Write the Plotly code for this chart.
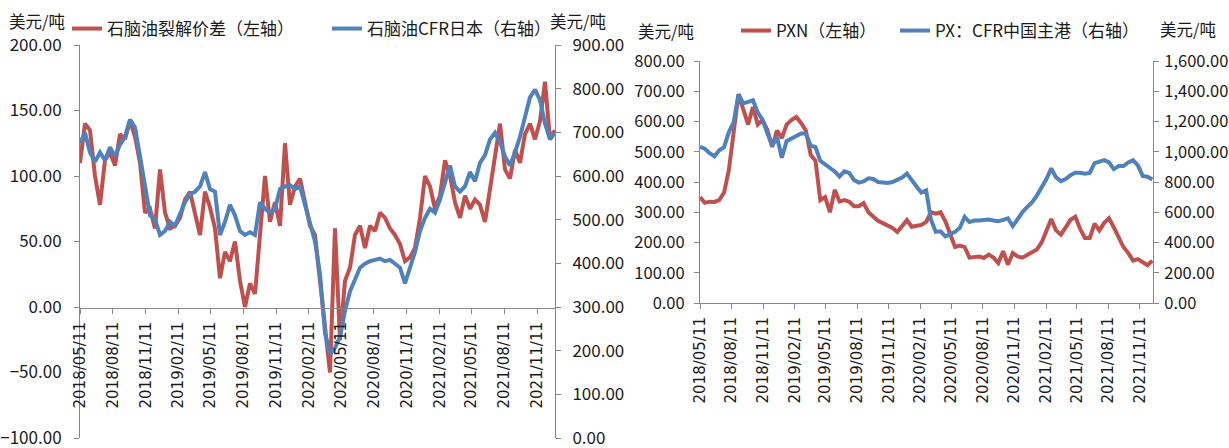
import pandas as pd
import plotly.graph_objects as go

# ---------------- data ----------------
dates = pd.date_range("2018-05-11", periods=96, freq="14D")

tick_dates = ["2018-05-11", "2018-08-11", "2018-11-11", "2019-02-11", "2019-05-11",
              "2019-08-11", "2019-11-11", "2020-02-11", "2020-05-11", "2020-08-11",
              "2020-11-11", "2021-02-11", "2021-05-11", "2021-08-11", "2021-11-11"]
tick_labels = ["2018/05/11", "2018/08/11", "2018/11/11", "2019/02/11", "2019/05/11",
               "2019/08/11", "2019/11/11", "2020/02/11", "2020/05/11", "2020/08/11",
               "2020/11/11", "2021/02/11", "2021/05/11", "2021/08/11", "2021/11/11"]

# 石脑油裂解价差 (left axis, USD/t)
naphtha_crack = [110, 140, 135, 100, 78, 112, 118, 108, 132, 128,
                 142, 130, 110, 72, 75, 60, 105, 72, 60, 62,
                 68, 82, 88, 72, 55, 88, 76, 60, 22, 42,
                 35, 50, 20, 0, 18, 10, 55, 100, 65, 80,
                 62, 125, 78, 92, 98, 78, 62, 55, 20, -20,
                 -50, 60, -25, 20, 30, 55, 62, 45, 62, 58,
                 72, 68, 60, 55, 48, 35, 38, 45, 68, 100,
                 92, 75, 85, 112, 100, 80, 68, 85, 75, 82,
                 78, 65, 92, 115, 140, 105, 98, 120, 110, 132,
                 140, 128, 142, 172, 128, 135]

# 石脑油CFR日本 (right axis, USD/t)
naphtha_cfr_japan = [675, 699, 654, 633, 654, 636, 666, 645, 672, 690,
                     729, 711, 645, 576, 510, 501, 465, 474, 495, 486,
                     516, 540, 558, 564, 576, 609, 570, 564, 465, 495,
                     534, 510, 474, 465, 471, 465, 540, 525, 516, 525,
                     570, 576, 579, 570, 576, 534, 492, 450, 375, 240,
                     192, 207, 231, 291, 336, 366, 390, 399, 405, 408,
                     411, 405, 408, 399, 390, 354, 390, 426, 474, 504,
                     525, 516, 546, 585, 624, 576, 564, 576, 609, 588,
                     630, 648, 684, 699, 678, 645, 624, 654, 690, 735,
                     780, 798, 774, 720, 684, 699]

# PXN (left axis, USD/t)
pxn = [350, 331, 335, 334, 340, 365, 440, 560, 690, 640,
       590, 648, 590, 605, 572, 516, 570, 545, 590, 605,
       615, 595, 570, 490, 470, 340, 350, 300, 374, 335,
       340, 335, 320, 320, 330, 300, 285, 272, 264, 255,
       248, 235, 255, 274, 252, 255, 258, 268, 300, 295,
       300, 270, 226, 185, 190, 185, 150, 152, 154, 149,
       160, 150, 132, 171, 127, 165, 154, 150, 160, 170,
       177, 200, 235, 278, 240, 226, 250, 275, 285, 245,
       215, 215, 262, 240, 265, 280, 250, 215, 185, 165,
       140, 145, 135, 125, 140]

# PX：CFR中国主港 (right axis, USD/t)
px_cfr_china = [1032, 1020, 990, 970, 1010, 1030, 1130, 1196, 1380, 1320,
                1330, 1340, 1260, 1210, 1124, 1040, 1098, 960, 1070, 1090,
                1104, 1120, 1120, 1040, 1030, 940, 916, 896, 870, 836,
                870, 860, 814, 796, 804, 824, 820, 800, 796, 794,
                800, 814, 830, 856, 810, 770, 730, 744, 550, 470,
                474, 441, 455, 470, 497, 570, 535, 545, 545, 550,
                552, 545, 540, 550, 560, 508, 560, 600, 635, 665,
                710, 760, 820, 890, 830, 806, 820, 845, 861, 861,
                855, 860, 925, 935, 945, 930, 885, 905, 905, 930,
                945, 910, 840, 835, 817]

# ---------------- style ----------------
W, H = 1229, 448
RED = "#C0504D"
BLUE = "#4F81BD"
AXIS = "#868686"
TXT = "#1a1a1a"
CJK = "Noto Sans CJK SC"
NUMFONT = dict(family=CJK, size=17, color=TXT)
NUMFONT_R = dict(family=CJK, size=16.5, color=TXT)
DATEFONT = dict(family="DejaVu Sans", size=15, color=TXT)
LEGFONT = dict(family=CJK, size=17, color=TXT)
LW = 4.0


def px_x(p):
    return p / W


def px_y(p):
    return 1 - p / H


fig = go.Figure()
fig.add_trace(go.Scatter(x=dates, y=naphtha_crack, name="石脑油裂解价差（左轴）",
                         mode="lines", line=dict(color=RED, width=LW),
                         xaxis="x", yaxis="y", legend="legend"))
fig.add_trace(go.Scatter(x=dates, y=naphtha_cfr_japan, name="石脑油CFR日本（右轴）",
                         mode="lines", line=dict(color=BLUE, width=LW),
                         xaxis="x", yaxis="y2", legend="legend2"))
fig.add_trace(go.Scatter(x=dates[:95], y=pxn, name="PXN（左轴）",
                         mode="lines", line=dict(color=RED, width=LW),
                         xaxis="x2", yaxis="y3", legend="legend3"))
fig.add_trace(go.Scatter(x=dates[:95], y=px_cfr_china, name="PX：CFR中国主港（右轴）",
                         mode="lines", line=dict(color=BLUE, width=LW),
                         xaxis="x2", yaxis="y4", legend="legend4"))

common_x = dict(tickvals=tick_dates, ticktext=tick_labels, tickangle=-90,
                ticks="outside", ticklen=5, tickcolor=AXIS, showline=True,
                linecolor=AXIS, linewidth=1, showgrid=False, zeroline=False,
                tickfont=DATEFONT, ticklabelstandoff=2, automargin=False,
                ticklabeloverflow="allow")
common_y = dict(ticks="outside", ticklen=5, tickcolor=AXIS, showline=True,
                linecolor=AXIS, linewidth=1, showgrid=False, zeroline=False,
                automargin=False, ticklabeloverflow="allow")


def leg(x, y):
    return dict(orientation="h", x=px_x(x), xanchor="left", y=px_y(y),
                yanchor="middle", font=LEGFONT, itemwidth=30,
                bgcolor="rgba(0,0,0,0)")


fig.update_layout(
    width=W, height=H, margin=dict(l=0, r=0, t=0, b=0, pad=0, autoexpand=False),
    paper_bgcolor="white", plot_bgcolor="white",
    xaxis=dict(domain=[px_x(80), px_x(555)], range=["2018-05-11", "2021-12-31"],
               anchor="free", position=px_y(308), **common_x),
    yaxis=dict(domain=[px_y(438), px_y(45)], range=[-100, 200], dtick=50,
               tickformat=".2f", anchor="x", side="left", ticklabelstandoff=9,
               tickfont=NUMFONT, **common_y),
    yaxis2=dict(overlaying="y", range=[0, 900], dtick=100, tickformat=".2f",
                anchor="x", side="right", ticklabelstandoff=8, tickfont=NUMFONT,
                **common_y),
    xaxis2=dict(domain=[px_x(700), px_x(1153)], range=["2018-05-11", "2021-12-19"],
                anchor="y3", **common_x),
    yaxis3=dict(domain=[px_y(303), px_y(61)], range=[0, 800], dtick=100,
                tickformat=".2f", anchor="x2", side="left", ticklabelstandoff=6,
                tickfont=NUMFONT_R, **common_y),
    yaxis4=dict(overlaying="y3", range=[0, 1600], dtick=200, tickformat=",.2f",
                anchor="x2", side="right", ticklabelstandoff=2, tickfont=NUMFONT_R,
                **common_y),
    legend=leg(67, 29),
    legend2=leg(327, 29),
    legend3=leg(736, 31),
    legend4=leg(895, 31),
    showlegend=True,
)

for x, y in [(37, 21), (578, 21), (666, 31), (1188, 29)]:
    fig.add_annotation(text="美元/吨", x=px_x(x), y=px_y(y), xref="paper", yref="paper",
                       showarrow=False, xanchor="center", yanchor="middle",
                       font=dict(family=CJK, size=16.5, color=TXT))

fig.write_html("out.html")
